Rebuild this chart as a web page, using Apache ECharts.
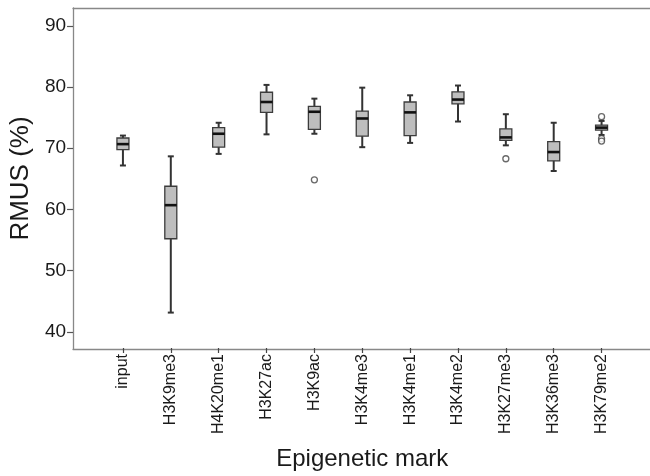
<!DOCTYPE html>
<html>
<head>
<meta charset="utf-8">
<script src="https://cdn.jsdelivr.net/npm/echarts@6/dist/echarts.min.js"></script>
<style>
html, body { margin: 0; padding: 0; background: #fff; }
#chart { width: 650px; height: 476px; }
</style>
</head>
<body>
<div id="chart"></div>
<script>
var categories = ['input','H3K9me3','H4K20me1','H3K27ac','H3K9ac','H3K4me3','H3K4me1','H3K4me2','H3K27me3','H3K36me3','H3K79me2'];
var whiskerLow  = [67.1, 43.0, 69.0, 72.2, 72.3, 70.1, 70.8, 74.3, 70.4, 66.2, 72.1];
var q1Values    = [69.7, 55.1, 70.1, 75.8, 73.0, 71.9, 72.0, 77.2, 71.2, 67.85, 72.9];
var medianVals  = [70.6, 60.6, 72.3, 77.5, 75.9, 74.8, 75.8, 77.9, 71.7, 69.3, 73.3];
var q3Values    = [71.6, 63.7, 73.3, 79.1, 76.8, 76.0, 77.5, 79.15, 73.1, 71.0, 73.7];
var whiskerHigh = [72.0, 68.6, 74.1, 80.3, 78.05, 79.85, 78.6, 80.2, 75.5, 74.1, 74.4];
var outlierCats = ['H3K9ac','H3K27me3','H3K79me2','H3K79me2','H3K79me2'];
var outlierVals = [64.75, 68.2, 75.1, 71.5, 71.1];
var yTicks = [40, 50, 60, 70, 80, 90];
var yMin = 37.2, yMax = 92.9;

var FONT = 'Liberation Sans, Arial, sans-serif';
var FRAME = { color: '#888888', width: 1.3 };

var boxData = categories.map(function (c, i) {
  return [i, whiskerLow[i], q1Values[i], medianVals[i], q3Values[i], whiskerHigh[i]];
});
var outlierData = outlierCats.map(function (c, i) { return [c, outlierVals[i]]; });

function renderBox(params, api) {
  var x = api.value(0);
  var pLow = api.coord([x, api.value(1)]);
  var pQ1 = api.coord([x, api.value(2)]);
  var pMed = api.coord([x, api.value(3)]);
  var pQ3 = api.coord([x, api.value(4)]);
  var pHigh = api.coord([x, api.value(5)]);
  var cx = pMed[0];
  var bw = 12, cw = 6;
  var dark = '#333333';
  return {
    type: 'group',
    children: [
      { type: 'line', shape: { x1: cx, y1: pHigh[1], x2: cx, y2: pLow[1] }, style: { stroke: dark, lineWidth: 2 } },
      { type: 'line', shape: { x1: cx - cw / 2, y1: pHigh[1], x2: cx + cw / 2, y2: pHigh[1] }, style: { stroke: dark, lineWidth: 2 } },
      { type: 'line', shape: { x1: cx - cw / 2, y1: pLow[1], x2: cx + cw / 2, y2: pLow[1] }, style: { stroke: dark, lineWidth: 2 } },
      { type: 'rect', shape: { x: cx - bw / 2, y: pQ3[1], width: bw, height: pQ1[1] - pQ3[1] }, style: { fill: '#bebebe', stroke: '#3c3c3c', lineWidth: 1.3 } },
      { type: 'line', shape: { x1: cx - bw / 2, y1: pMed[1], x2: cx + bw / 2, y2: pMed[1] }, style: { stroke: '#111111', lineWidth: 2.6 } }
    ]
  };
}

var chart = echarts.init(document.getElementById('chart'), null, { renderer: 'canvas' });
chart.setOption({
  animation: false,
  backgroundColor: '#ffffff',
  textStyle: { fontFamily: FONT },
  grid: [
    { left: 70, right: 0, top: 8, bottom: 127 },
    { left: 99, right: 24.5, top: 8, bottom: 127 }
  ],
  xAxis: [
    { gridIndex: 0, type: 'value', min: 0, max: 1, position: 'bottom',
      axisLine: { show: true, onZero: false, lineStyle: FRAME },
      axisTick: { show: false }, axisLabel: { show: false }, splitLine: { show: false } },
    { gridIndex: 0, type: 'value', min: 0, max: 1, position: 'top',
      axisLine: { show: true, onZero: false, lineStyle: FRAME },
      axisTick: { show: false }, axisLabel: { show: false }, splitLine: { show: false } },
    {
      gridIndex: 1, type: 'category', data: categories, boundaryGap: true,
      axisLine: { show: false },
      axisTick: { show: true, alignWithLabel: true, length: 5, lineStyle: { color: '#444444', width: 1.2 } },
      axisLabel: { rotate: 90, fontSize: 16, color: '#1a1a1a', margin: 6, fontFamily: FONT, interval: 0 },
      splitLine: { show: false },
      name: 'Epigenetic mark', nameLocation: 'middle', nameGap: 99,
      nameTextStyle: { fontSize: 24, color: '#1a1a1a', fontFamily: FONT }
    }
  ],
  yAxis: [
    {
      gridIndex: 0, type: 'value', min: yMin, max: yMax,
      axisLine: { show: true, onZero: false, lineStyle: FRAME },
      axisTick: { show: true, customValues: yTicks, length: 6, lineStyle: { color: '#555555', width: 1.2 } },
      axisLabel: { customValues: yTicks, fontSize: 19, color: '#1a1a1a', margin: 7, fontFamily: FONT },
      splitLine: { show: false },
      name: 'RMUS (%)', nameLocation: 'middle', nameGap: 29,
      nameTextStyle: { fontSize: 26, color: '#1a1a1a', fontFamily: FONT }
    },
    { gridIndex: 1, type: 'value', min: yMin, max: yMax, show: false }
  ],
  series: [
    {
      type: 'custom', xAxisIndex: 2, yAxisIndex: 1,
      renderItem: renderBox,
      encode: { x: 0, y: [1, 2, 3, 4, 5] },
      data: boxData,
      z: 2
    },
    {
      type: 'scatter', xAxisIndex: 2, yAxisIndex: 1,
      data: outlierData,
      symbol: 'circle', symbolSize: 6,
      itemStyle: { color: '#ffffff', borderColor: '#444444', borderWidth: 1.3 },
      z: 3
    }
  ]
});
</script>
</body>
</html>
